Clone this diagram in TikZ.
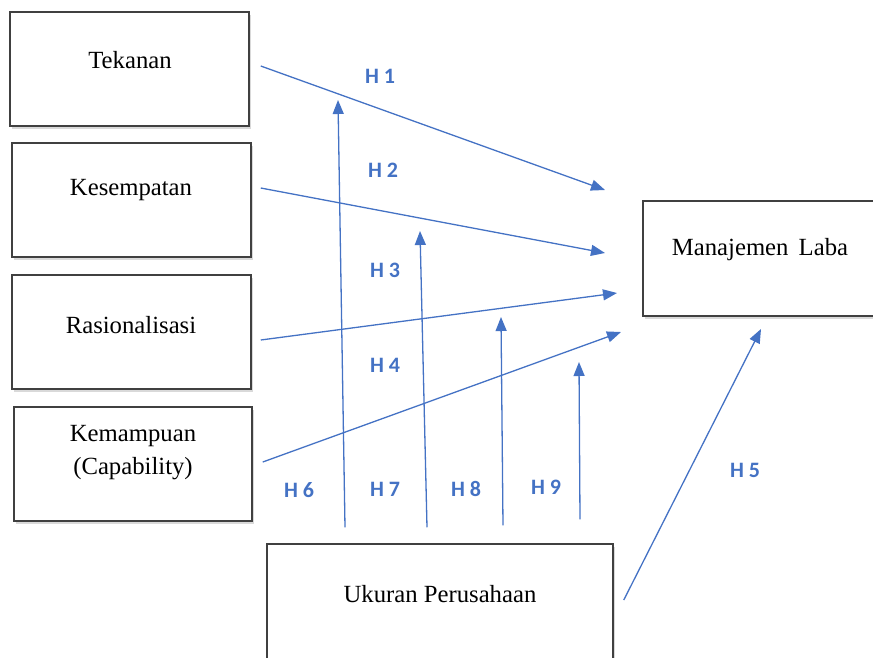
\documentclass[tikz,border=0pt]{standalone}
\usepackage{fontspec}
\setmainfont{Liberation Serif}
\newfontfamily\hypfont{Carlito}
\usetikzlibrary{arrows.meta, positioning, shadows}
\definecolor{hBlue}{HTML}{4472C4}

\begin{document}
\begin{tikzpicture}[x=1pt, y=-1pt,
      >={Triangle[length=14pt, width=11pt]},
      box/.style={draw=black!75, line width=1.5pt, fill=white, inner sep=0pt,
                  minimum width=239pt, minimum height=114pt,
                  drop shadow={shadow xshift=2pt, shadow yshift=-3pt, opacity=0.3}},
      txt/.style={font=\fontsize{24.7}{33}\selectfont, align=center, inner sep=0pt},
      arr/.style={->, hBlue, line width=1.3pt},
      hyp/.style={font=\hypfont\bfseries\fontsize{22}{26}\selectfont, text=hBlue}]
    \useasboundingbox (0,0) rectangle (873,657);
    % boxes
    \node[box] (tek) at (129.5,69) {};
    \node[box] (kes) at (131.5,200) {};
    \node[box] (ras) at (131.5,332) {};
    \node[box, minimum width=238pt] (kem) at (133,464) {};
    \node[box, minimum width=238pt, minimum height=115pt] (man) at (762,258.5) {};
    \node[box, minimum width=346pt, minimum height=130pt] (uku) at (440,609) {};
    % box texts
    \node[txt] (tekt) at (130,60) {Tekanan};
    \node[txt] (kest) at (131,190) {Kesempatan};
    \node[txt] (rast) at (131,325) {Rasionalisasi};
    \node[txt] (kemt) at (133,453) {Kemampuan\\(Capability)};
    \node[txt] (mant) at (760,250) {Manajemen\hspace{4pt} Laba};
    \node[txt] (ukut) at (440,594) {Ukuran Perusahaan};
    % arrow tips
    \coordinate (t1) at (605,190);
    \coordinate (t2) at (605,253);
    \coordinate (t3) at (617,293);
    \coordinate (t4) at (621,332);
    \coordinate (t5) at (761,329);
    \coordinate (t6) at (338,100);
    \coordinate (t7) at (420,231);
    \coordinate (t8) at (501,317);
    \coordinate (t9) at (579,362);
    % arrows
    \draw[arr] ([xshift=11pt, yshift=3pt]tek.east) -- (t1);
    \draw[arr] ([xshift=9pt, yshift=12pt]kes.east) -- (t2);
    \draw[arr] ([xshift=9pt, yshift=-8pt]ras.east) -- (t3);
    \draw[arr] ([xshift=10pt, yshift=2pt]kem.east) -- (t4);
    \draw[arr] ([xshift=10pt, yshift=9pt]uku.east) -- (t5);
    \draw[arr] ([xshift=-95pt, yshift=16pt]uku.north) -- (t6);
    \draw[arr] ([xshift=-13pt, yshift=16pt]uku.north) -- (t7);
    \draw[arr] ([xshift=63pt, yshift=18pt]uku.north) -- (t8);
    \draw[arr] ([xshift=140pt, yshift=24pt]uku.north) -- (t9);
    % hypothesis labels
    \node[hyp] (h1) at (380,76) {H 1};
    \node[hyp] (h2) at (383,170) {H 2};
    \node[hyp] (h3) at (385,270) {H 3};
    \node[hyp] (h4) at (385,365) {H 4};
    \node[hyp] (h5) at (745,470) {H 5};
    \node[hyp] (h6) at (299,490) {H 6};
    \node[hyp] (h7) at (385,489) {H 7};
    \node[hyp] (h8) at (466,489) {H 8};
    \node[hyp] (h9) at (546,487) {H 9};
\end{tikzpicture}
\end{document}
